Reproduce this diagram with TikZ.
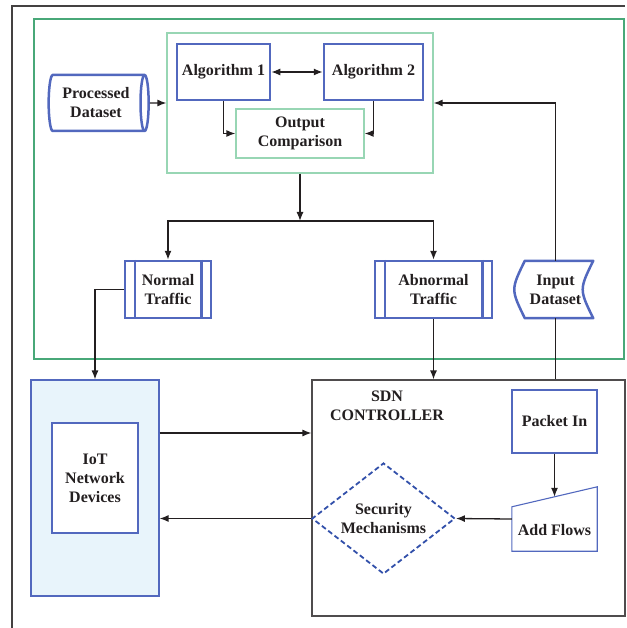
\documentclass[tikz,border=0pt]{standalone}
\usepackage{fontspec}
\setmainfont{Liberation Serif}
\usepackage{tikz}
\usetikzlibrary{shapes,arrows,arrows.meta,positioning,calc}

\definecolor{boxblue}{RGB}{82,104,190}
\definecolor{dashblue}{RGB}{50,80,170}
\definecolor{darkgreen}{RGB}{72,168,120}
\definecolor{lightgreen}{RGB}{152,214,180}
\definecolor{iotfill}{RGB}{232,244,251}
\definecolor{ink}{RGB}{35,31,32}

\begin{document}
\begin{tikzpicture}[x=1pt, y=-1pt, font=\fontsize{16}{19}\selectfont\bfseries, text=ink,
    arr/.style={-{Latex[length=9pt,width=7pt]}, line width=1.3pt, draw=ink},
    algbox/.style={rectangle, draw=boxblue, line width=2.5pt, minimum height=56pt, align=center},
    thinbox/.style={rectangle, draw=boxblue, line width=1.1pt, align=center},
    trafficbox/.style={rectangle, draw=boxblue, line width=2.5pt, minimum height=57pt, align=center}]
        \useasboundingbox (0,0) rectangle (626,628);
        \draw[line width=2pt, draw=ink!85] (12,628) |- (625,6);
        \node (main) [rectangle, draw=darkgreen, line width=1.5pt, minimum width=590pt, minimum height=340pt] at (329,189) {};

        % detection part
        \node (algarea) [rectangle, draw=lightgreen, line width=1.2pt, minimum width=266pt, minimum height=140pt] at (300,103) {};
        \node (alg1) [algbox, minimum width=93pt] at (223.5,72) {Algorithm 1};
        \node (alg2) [algbox, minimum width=99pt] at (373.5,72) {Algorithm 2};
        \node (outcmp) [rectangle, draw=lightgreen, line width=1.2pt, minimum width=128pt, minimum height=49pt, align=center] at (300,133.5) {Output\\Comparison};
        \node (procdata) [cylinder, draw=boxblue, line width=2.5pt, minimum width=56pt, minimum height=100pt, aspect=0.27, align=center, inner sep=0pt] at (96,103) {Processed\\Dataset};

        \node (normal) [trafficbox, minimum width=86pt] at (168,289.5) {Normal\\Traffic};
        \draw[draw=boxblue, line width=2.5pt] ([xshift=11pt]normal.north west) -- ([xshift=11pt]normal.south west)
            ([xshift=-11pt]normal.north east) -- ([xshift=-11pt]normal.south east);
        \node (abnormal) [trafficbox, minimum width=117pt] at (433.5,289.5) {Abnormal\\Traffic};
        \draw[draw=boxblue, line width=2.5pt] ([xshift=11pt]abnormal.north west) -- ([xshift=11pt]abnormal.south west)
            ([xshift=-11pt]abnormal.north east) -- ([xshift=-11pt]abnormal.south east);
        \node (inputdata) [rectangle, minimum width=75pt, minimum height=57pt, align=center] at (555.5,289.5) {Input\\Dataset};
        \draw[draw=boxblue, line width=2.5pt, line join=round] ([xshift=7pt]inputdata.north west) -- (inputdata.north east)
            .. controls ([xshift=-14pt]inputdata.east) .. (inputdata.south east) -- ([xshift=7pt]inputdata.south west)
            .. controls ([xshift=-7pt]inputdata.west) .. cycle;

        % network part
        \node (iotarea) [rectangle, draw=boxblue, fill=iotfill, line width=1.1pt, minimum width=128pt, minimum height=216pt] at (95,488) {};
        \node (iot) [thinbox, fill=white, minimum width=86pt, minimum height=110pt] at (95,478) {IoT\\Network\\Devices};
        \node (sdn) [rectangle, draw=ink!80, line width=1.1pt, minimum width=313pt, minimum height=236pt] at (468.5,498) {};
        \node (sdnlabel) [align=center] at (387,405.5) {SDN\\CONTROLLER};
        \node (packetin) [thinbox, minimum width=85pt, minimum height=63pt] at (554.5,421.5) {Packet In};
        \node (addflows) [rectangle, minimum width=85pt, minimum height=64pt, text depth=0pt] at (554.5,519) {\raisebox{-16pt}{Add Flows}};
        \draw[draw=boxblue, line width=1.1pt] ([yshift=-20pt]addflows.north west) -- (addflows.north east) -- (addflows.south east) -- (addflows.south west) -- cycle;
        \node (secmech) [diamond, draw=dashblue, dashed, dash pattern=on 5pt off 3pt, line width=1.8pt, minimum width=143pt, minimum height=111pt, aspect=1.29, inner sep=0pt, align=center] at (383.5,518.5) {Security\\Mechanisms};

        % connectors
        \draw[arr] (procdata.east) -- (algarea.west);
        \draw[arr, {Latex[length=9pt,width=7pt]}-{Latex[length=9pt,width=7pt]}] (alg1) -- (alg2);
        \draw[arr] (alg1.south) |- (outcmp.west);
        \draw[arr] (alg2.south) |- (outcmp.east);
        \coordinate (split) at (300,221);
        \draw[arr] (algarea.south) -- (split);
        \draw[arr] (split) -| (normal.north);
        \draw[arr] (split) -| (abnormal.north);
        \draw[arr] (inputdata.north) |- (algarea.east);
        \draw[line width=1.3pt, draw=ink] (inputdata.south) -- (inputdata.south |- sdn.north);
        \draw[arr] (normal.west) -| (iotarea.north);
        \draw[arr] (abnormal.south) -- (abnormal.south |- sdn.north);
        \draw[arr] ([yshift=55pt]iotarea.east) -- ([yshift=55pt]iotarea.east -| sdn.west);
        \draw[arr] (secmech.west) -- (secmech.west -| iotarea.east);
        \draw[arr] (addflows.west) -- (secmech.east);
        \draw[arr] (packetin.south) -- ([yshift=-10pt]addflows.north);
    \end{tikzpicture}
\end{document}
